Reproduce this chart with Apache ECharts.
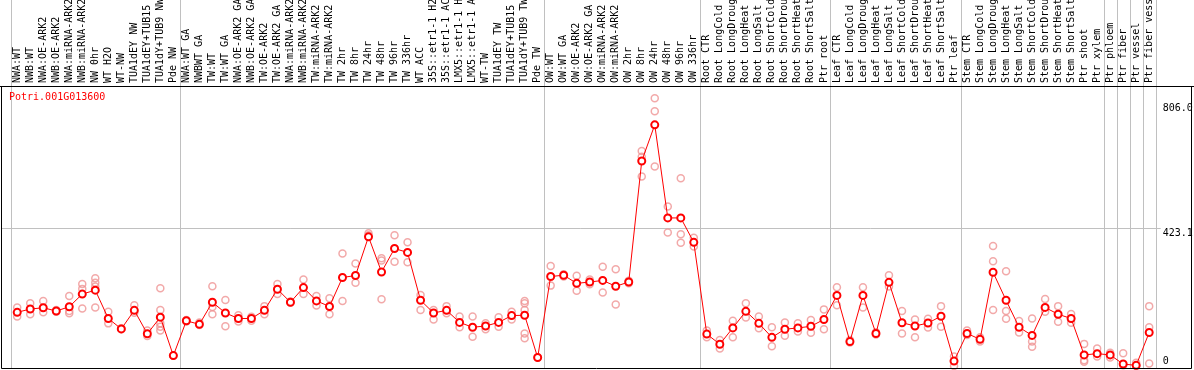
<!DOCTYPE html>
<html>
<head>
<meta charset="utf-8">
<script src="https://cdn.jsdelivr.net/npm/echarts@6/dist/echarts.min.js"></script>
<style>
html,body{margin:0;padding:0;background:#fff;}
#chart{width:1194px;height:370px;}
</style>
</head>
<body>
<div id="chart"></div>
<script>
var geneName = 'Potri.001G013600';

var categories = [
 'NWA:WT','NWB:WT','NWA:OE-ARK2','NWB:OE-ARK2','NWA:miRNA-ARK2','NWB:miRNA-ARK2','NW 0hr','WT H2O','WT-NW','TUA1dEY NW','TUA1dEY+TUB15','TUA1dY+TUB9 NW','Pde NW',
 'NWA:WT GA','NWBWT GA','TW:WT','TW:WT GA','NWA:OE-ARK2 GA','NWB:OE-ARK2 GA','TW:OE-ARK2','TW:OE-ARK2 GA','NWA:miRNA-ARK2','NWB:miRNA-ARK2','TW:miRNA-ARK2','TW:miRNA-ARK2','TW 2hr','TW 8hr','TW 24hr','TW 48hr','TW 96hr','TW 336hr','WT ACC','35S::etr1-1 H2','35S::etr1-1 AC','LMX5::etr1-1 H','LMX5::etr1-1 A','WT-TW','TUA1dEY TW','TUA1dEY+TUB15','TUA1dY+TUB9 TW','Pde TW',
 'OW:WT','OW:WT GA','OW:OE-ARK2','OW:OE-ARK2 GA','OW:miRNA-ARK2','OW:miRNA-ARK2','OW 2hr','OW 8hr','OW 24hr','OW 48hr','OW 96hr','OW 336hr',
 'Root CTR','Root LongCold','Root LongDroug','Root LongHeat','Root LongSalt','Root ShortCold','Root ShortDrou','Root ShortHeat','Root ShortSalt','Ptr root',
 'Leaf CTR','Leaf LongCold','Leaf LongDroug','Leaf LongHeat','Leaf LongSalt','Leaf ShortCold','Leaf ShortDrou','Leaf ShortHeat','Leaf ShortSalt','Ptr leaf',
 'Stem CTR','Stem LongCold','Stem LongDroug','Stem LongHeat','Stem LongSalt','Stem ShortCold','Stem ShortDrou','Stem ShortHeat','Stem ShortSalt','Ptr shoot','Ptr xylem',
 'Ptr phloem','Ptr fiber','Ptr vessel','Ptr fiber vess'
];

var means = [
 165,175,179,169,182,221,233,146,114,171,99,150,32,
 139,128,196,163,146,146,171,236,196,241,200,183,272,278,397,289,361,349,202,163,171,134,119,123,134,155,156,26,
 275,279,254,258,263,245,258,630,741,455,455,380,
 98,67,117,168,131,88,113,117,122,143,
 217,75,217,100,257,133,123,132,153,15,
 100,82,288,202,119,94,180,159,146,34,38,
 34,6,2,103
];

var replicates = [
 [180,152],[193,159],[200,165],[172,167],[215,162,169],[252,237,177],[270,256,244,180],[167,131],[116,113],[187,164],[109,92],[239,172,131,121,109],[32,32],
 [141,137],[134,126],[245,181,159],[203,122],[156,137],[151,139],[184,159],[252,221],[198,195],[266,221],[215,186],[208,159],[346,200],[315,256],[408,402],[331,324,205],[402,320],[380,319],[218,172],[172,143],[184,162],[152,119],[152,90],[131,113],[150,121],[167,143],[200,193,172,100,85],[26],
 [307,247],[282,275],[277,231],[266,251],[305,226],[297,189],[262,254],[661,643,582],[823,783,613],[490,410],[577,405,379],[394,367],
 [109,88],[80,54],[139,88],[193,149],[152,116],[119,61],[134,93],[131,106],[141,102],[174,113],
 [242,187],[80,72],[242,180],[104,97],[279,244],[169,100],[143,88],[145,118],[184,121],[29,0],
 [109,95],[88,75],[369,322,172],[291,169,145],[138,103],[146,75,59],[206,167],[184,136],[160,133],[68,18,13],[54,29],
 [41,26],[39,2],[10,0],[184,119,8]
];

var groupBoundaries = [0,13,41,53,63,73,84,85,86,87,88];
var yTickValues = [0, 423.1, 806.0];
var yTickLabels = ['0', '423.1', '806.0'];
var yGridValues = [423.1];

var replicatePoints = [];
replicates.forEach(function (arr, i) {
  arr.forEach(function (v) { replicatePoints.push([i, v]); });
});

var mono = 'DejaVu Sans Mono';
var chart = echarts.init(document.getElementById('chart'), null, {renderer: 'canvas'});

var option = {
  animation: false,
  backgroundColor: '#ffffff',
  title: {
    text: geneName, left: 9, top: 92, padding: 0,
    textStyle: {color: '#ff0000', fontFamily: mono, fontSize: 10, fontWeight: 'normal'}
  },
  graphic: [{
    type: 'rect', silent: true, z: 100,
    shape: {x: 1.5, y: 86.5, width: 1190, height: 282},
    style: {fill: 'none', stroke: '#000', lineWidth: 1}
  }, {
    type: 'line', silent: true, z: 100,
    shape: {x1: 0, y1: 86.5, x2: 1194, y2: 86.5},
    style: {stroke: '#000', lineWidth: 1}
  }],
  grid: {left: 10.7, right: 38.3, top: 86, bottom: 1, containLabel: false, outerBoundsMode: 'none'},
  xAxis: {
    type: 'category', position: 'top', data: categories, boundaryGap: true,
    axisLine: {show: false}, axisTick: {show: false}, splitLine: {show: false},
    axisLabel: {interval: 0, rotate: 90, margin: 3, fontFamily: mono, fontSize: 10, color: '#000'}
  },
  yAxis: {
    type: 'value', min: -9.2, max: 860.4,
    axisLine: {show: false}, axisTick: {show: false}, axisLabel: {show: false}, splitLine: {show: false}
  },
  series: [{
    type: 'custom', name: 'groups', clip: false, silent: true, z: 1,
    data: groupBoundaries.map(function (k) { return [k, 0]; }),
    encode: {x: 0, y: 1},
    renderItem: function (params, api) {
      var k = api.value(0);
      var band = api.size([1, 0])[0];
      var idx = Math.min(k, categories.length - 1);
      var cx = api.coord([idx, 0])[0];
      var x = k >= categories.length ? cx + band / 2 : cx - band / 2;
      x = Math.round(x) + 0.5;
      var cs = params.coordSys;
      return {type: 'line', shape: {x1: x, y1: 0, x2: x, y2: cs.y + cs.height},
        style: {stroke: '#c0c0c0', lineWidth: 1}};
    }
  }, {
    type: 'custom', name: 'yticks', clip: false, silent: true, z: 1,
    data: yTickValues.map(function (v, i) { return [categories.length - 1, v, i]; }),
    encode: {x: 0, y: 1},
    renderItem: function (params, api) {
      var v = api.value(1);
      var i = api.value(2);
      var band = api.size([1, 0])[0];
      var p = api.coord([categories.length - 1, v]);
      var cs = params.coordSys;
      var children = [{
        type: 'text',
        style: {text: yTickLabels[i], x: p[0] + band / 2 + 7, y: p[1],
          fill: '#000', font: '10px ' + mono, align: 'left',
          verticalAlign: v === 0 ? 'bottom' : 'top'}
      }];
      if (yGridValues.indexOf(v) >= 0) {
        var y = Math.round(p[1]) + 0.5;
        children.push({type: 'line', shape: {x1: 1, y1: y, x2: p[0] + band / 2 + 5, y2: y},
          style: {stroke: '#c0c0c0', lineWidth: 1}});
      }
      return {type: 'group', children: children};
    }
  }, {
    type: 'scatter', name: 'replicates', z: 3,
    data: replicatePoints, symbol: 'circle', symbolSize: 7,
    itemStyle: {color: 'rgba(255,255,255,0)', borderColor: '#ef9494', borderWidth: 1.5}
  }, {
    type: 'line', name: 'mean', z: 5,
    data: means, symbol: 'emptyCircle', symbolSize: 7, showAllSymbol: true,
    lineStyle: {color: '#ff0000', width: 1},
    itemStyle: {color: '#ff0000', borderColor: '#ff0000', borderWidth: 2}
  }]
};
chart.setOption(option);
</script>
</body>
</html>
